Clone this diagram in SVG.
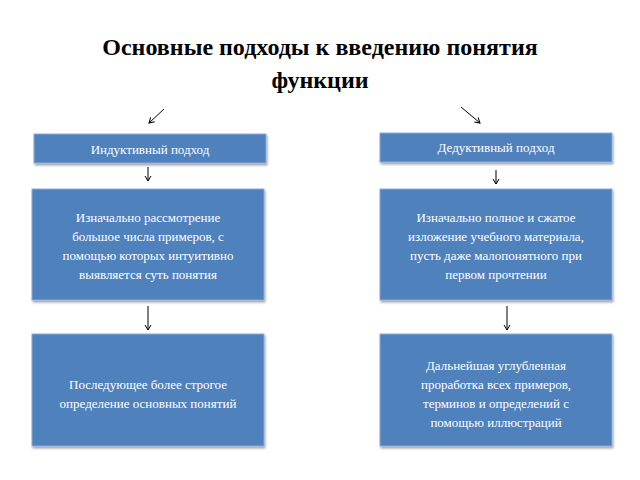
<svg xmlns="http://www.w3.org/2000/svg" width="640" height="480" viewBox="0 0 640 480">
<defs>
<marker id="ah" markerWidth="8" markerHeight="8" refX="6" refY="4" orient="auto" markerUnits="userSpaceOnUse"><path d="M1,1 L6,4 L1,7" fill="none" stroke="#000" stroke-width="1"/></marker>
<filter id="sh" x="-5%" y="-5%" width="115%" height="125%"><feDropShadow dx="1" dy="2" stdDeviation="1.2" flood-color="#000" flood-opacity="0.35"/></filter>
</defs>
<style>
.b{fill:#4F81BD;stroke:#8EAADB;stroke-width:1;filter:url(#sh)}
.t{font-family:"Liberation Serif",serif;font-size:13px;fill:#fff;text-anchor:middle}
.c line{stroke:#000;stroke-width:1;marker-end:url(#ah)}
</style>
<rect width="640" height="480" fill="#fff"/>
<text x="320" y="55" font-family="Liberation Serif,serif" font-size="24" font-weight="bold" text-anchor="middle">Основные подходы к введению понятия</text>
<text x="320" y="88" font-family="Liberation Serif,serif" font-size="24" font-weight="bold" text-anchor="middle">функции</text>
<g class="c">
<line x1="164" y1="109" x2="149" y2="123"/>
<line x1="461" y1="107" x2="480" y2="123"/>
<line x1="148" y1="167" x2="148" y2="181"/>
<line x1="496" y1="170" x2="496" y2="184"/>
<line x1="148" y1="306" x2="148" y2="330"/>
<line x1="507" y1="306" x2="507" y2="330"/>
</g>
<g id="n1"><rect class="b" x="34" y="134" width="232" height="29"/><text class="t" x="150" y="154">Индуктивный подход</text></g>
<g id="n2"><rect class="b" x="380" y="133" width="232" height="29"/><text class="t" x="496" y="152">Дедуктивный подход</text></g>
<g id="n3"><rect class="b" x="32" y="189" width="232" height="111"/>
<text class="t" x="148" y="222">Изначально рассмотрение</text><text class="t" x="148" y="241">большое числа примеров, с</text><text class="t" x="148" y="260">помощью которых интуитивно</text><text class="t" x="148" y="279">выявляется суть понятия</text></g>
<g id="n4"><rect class="b" x="380" y="189" width="232" height="111"/>
<text class="t" x="496" y="222">Изначально полное и сжатое</text><text class="t" x="496" y="241">изложение учебного материала,</text><text class="t" x="496" y="260">пусть даже малопонятного при</text><text class="t" x="496" y="279">первом прочтении</text></g>
<g id="n5"><rect class="b" x="32" y="334" width="232" height="112"/>
<text class="t" x="148" y="389">Последующее более строгое</text><text class="t" x="148" y="408">определение основных понятий</text></g>
<g id="n6"><rect class="b" x="380" y="334" width="232" height="112"/>
<text class="t" x="496" y="370">Дальнейшая углубленная</text><text class="t" x="496" y="389">проработка всех примеров,</text><text class="t" x="496" y="408">терминов и определений с</text><text class="t" x="496" y="427">помощью иллюстраций</text></g>
</svg>
